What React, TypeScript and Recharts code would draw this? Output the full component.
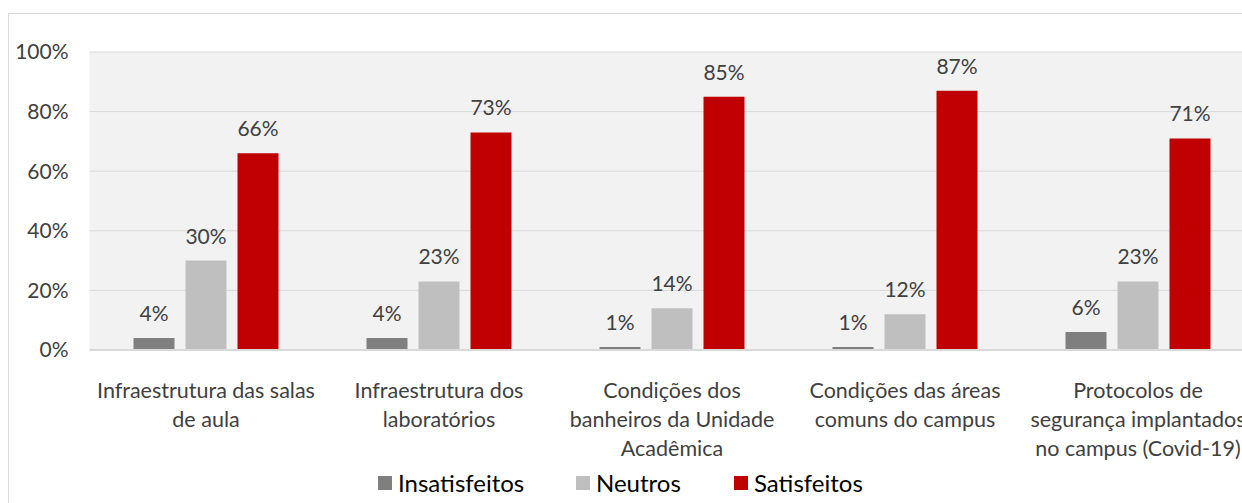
import { BarChart, Bar, XAxis, YAxis, CartesianGrid, LabelList } from "recharts";

const categoryLines = [
  ["Infraestrutura das salas", "de aula"],
  ["Infraestrutura dos", "laboratórios"],
  ["Condições dos", "banheiros da Unidade", "Acadêmica"],
  ["Condições das áreas", "comuns do campus"],
  ["Protocolos de", "segurança implantados", "no campus (Covid-19)"],
];
const insatisfeitos = [4, 4, 1, 1, 6];
const neutros = [30, 23, 14, 12, 23];
const satisfeitos = [66, 73, 85, 87, 71];
const yTicks = [0, 20, 40, 60, 80, 100];

const series = [
  { key: "insatisfeitos", name: "Insatisfeitos", color: "#7f7f7f", legendX: 378 },
  { key: "neutros", name: "Neutros", color: "#bfbfbf", legendX: 576 },
  { key: "satisfeitos", name: "Satisfeitos", color: "#c00000", legendX: 734 },
];

const data = categoryLines.map((lines, i) => ({
  name: lines.join(" "),
  insatisfeitos: insatisfeitos[i],
  neutros: neutros[i],
  satisfeitos: satisfeitos[i],
}));

const FONT = "Lato, 'Open Sans', sans-serif";
const TEXT = "#404040";

function CategoryTick({ x, y, payload }: any) {
  const lines = categoryLines[payload.index] || [payload.value];
  return (
    <text x={x} y={y} textAnchor="middle" fill={TEXT} fontSize={21.5} fontFamily={FONT}>
      {lines.map((l, i) => (
        <tspan key={i} x={x} y={y + 40 + i * 29}>
          {l}
        </tspan>
      ))}
    </text>
  );
}

function ChartLegend() {
  return (
    <>
      {series.map((s) => (
        <div
          key={s.key}
          style={{
            position: "absolute",
            top: 468,
            left: s.legendX,
            display: "flex",
            alignItems: "center",
            fontFamily: FONT,
            fontSize: 24,
            color: "#000",
            lineHeight: "30px",
            whiteSpace: "nowrap",
          }}
        >
          <span style={{ width: 14, height: 14, background: s.color, display: "inline-block", marginRight: 6 }} />
          <span>{s.name}</span>
        </div>
      ))}
    </>
  );
}

export default function App() {
  return (
    <div style={{ position: "fixed", left: 0, top: 0, width: 1242, height: 503, overflow: "hidden", background: "#fff" }}>
      <div style={{ position: "absolute", left: 8, top: 13, width: 1300, height: 600, borderLeft: "1px solid #d9d9d9", borderTop: "1px solid #d9d9d9" }} />
      <div style={{ position: "absolute", left: 0, top: 0 }}>
        <BarChart
          width={1300}
          height={503}
          data={data}
          margin={{ top: 52, right: 45.5, left: 0, bottom: 0 }}
          barSize={41}
          barGap={11}
        >
          <CartesianGrid vertical={false} stroke="#d9d9d9" fill="#f2f2f2" />
          <XAxis
            dataKey="name"
            tick={<CategoryTick />}
            tickLine={false}
            axisLine={{ stroke: "#d9d9d9", strokeWidth: 2 }}
            height={153}
            interval={0}
          />
          <YAxis
            width={89.5}
            domain={[0, 100]}
            ticks={yTicks}
            tickFormatter={(v: number) => `${v}%`}
            tickLine={false}
            axisLine={false}
            tickSize={0}
            tickMargin={21}
            tick={{ fill: TEXT, fontSize: 21, fontFamily: FONT }}
          />
          {series.map((s) => (
            <Bar key={s.key} dataKey={s.key} name={s.name} fill={s.color} isAnimationActive={false}>
              <LabelList
                dataKey={s.key}
                position="top"
                offset={17}
                formatter={(v: any) => `${v}%`}
                fill={TEXT}
                fontSize={21}
                fontFamily={FONT}
              />
            </Bar>
          ))}
        </BarChart>
      </div>
      <ChartLegend />
    </div>
  );
}
